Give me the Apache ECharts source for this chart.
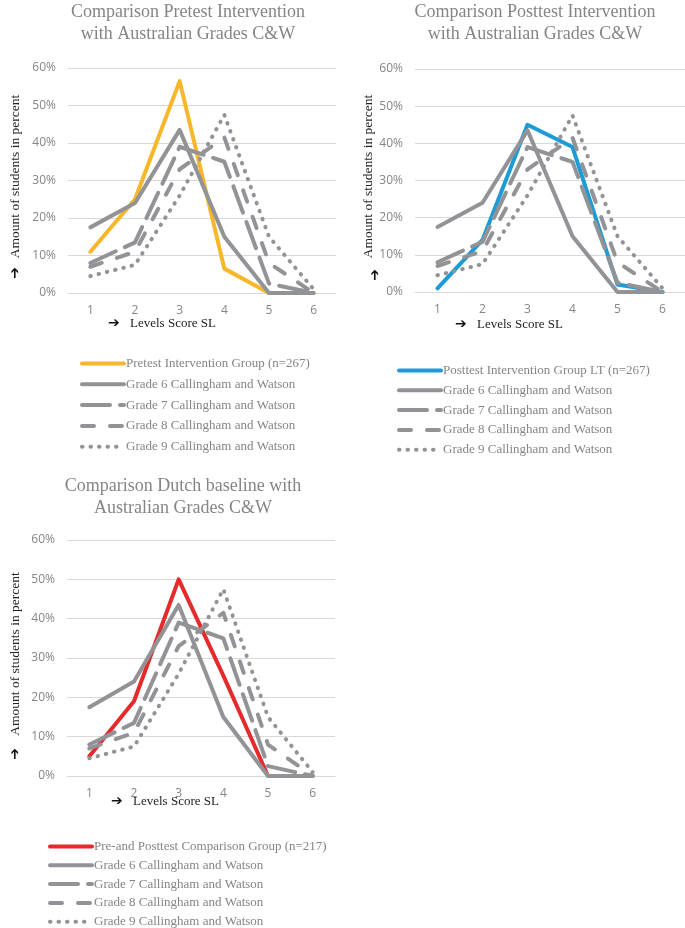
<!DOCTYPE html>
<html>
<head>
<meta charset="utf-8">
<script src="https://cdn.jsdelivr.net/npm/echarts@6/dist/echarts.min.js"></script>
<style>
html,body{margin:0;padding:0;background:#fff;}
#chart{width:685px;height:928px;}
</style>
</head>
<body>
<div id="chart"></div>
<script>
// ---- data ----
const levels = ['1', '2', '3', '4', '5', '6'];
const yTicks = [0, 10, 20, 30, 40, 50, 60];

const pretestName = 'Pretest Intervention Group (n=267)';
const pretest = [11, 25, 56.5, 6.5, 0, 0];

const posttestName = 'Posttest Intervention Group LT (n=267)';
const posttest = [1, 14, 45, 39, 2, 0];

const comparisonName = 'Pre-and Posttest Comparison Group (n=217)';
const comparison = [5, 19, 50, 25.5, 0, 0];

const grade6Name = 'Grade 6 Callingham and Watson';
const grade6 = [17.5, 24, 43.5, 15, 0, 0];
const grade7Name = 'Grade 7 Callingham and Watson';
const grade7 = [8, 13.5, 39, 35, 2.5, 0];
const grade8Name = 'Grade 8 Callingham and Watson';
const grade8 = [7, 11, 33, 41.5, 8, 0];
const grade9Name = 'Grade 9 Callingham and Watson';
const grade9 = [4.5, 7.5, 26, 47.5, 15, 1];

const titles = [
  'Comparison Pretest Intervention\nwith Australian Grades C&W',
  'Comparison Posttest Intervention\nwith Australian Grades C&W',
  'Comparison Dutch baseline with\nAustralian Grades C&W'
];
const yName = 'Amount of students in percent';
const xName = 'Levels Score SL';

// ---- styles ----
const GRAY = '#929396';
const TXT = '#858585';
const SERIF = '"Liberation Serif", "Times New Roman", serif';
const SANS = '"Open Sans", "Liberation Sans", sans-serif';

const grids = [
  {left: 68, top: 68, width: 268, height: 225},
  {left: 415, top: 69, width: 270, height: 223},
  {left: 67, top: 540, width: 268, height: 236}
];
const yNameGap = [46, 33, 45];

const mainSets = [
  {name: pretestName, data: pretest, color: '#F8B62A'},
  {name: posttestName, data: posttest, color: '#1D9BD7'},
  {name: comparisonName, data: comparison, color: '#E52A2C'}
];
const grades = [
  {name: grade6Name, data: grade6, type: 'solid'},
  {name: grade7Name, data: grade7, type: [28, 10]},
  {name: grade8Name, data: grade8, type: [12, 16]},
  {name: grade9Name, data: grade9, type: [0.5, 8]}
];

const xAxis = [], yAxis = [], series = [], legend = [], title = [], graphic = [];

grids.forEach((g, i) => {
  xAxis.push({
    type: 'category', gridIndex: i, data: levels, boundaryGap: true,
    axisLine: {show: true, lineStyle: {color: '#d9d9d9', width: 1}},
    axisTick: {show: false},
    axisLabel: {color: TXT, fontFamily: SANS, fontSize: 12, margin: 12}
  });
  yAxis.push({
    type: 'value', gridIndex: i, min: yTicks[0], max: yTicks[yTicks.length - 1], interval: 10,
    axisLine: {show: false}, axisTick: {show: false},
    axisLabel: {color: TXT, fontFamily: SANS, fontSize: 12, margin: 12, formatter: '{value}%'},
    splitLine: {lineStyle: {color: '#d9d9d9', width: 1}},
    name: yName, nameLocation: 'middle', nameRotate: 90, nameGap: yNameGap[i],
    nameTextStyle: {color: '#222', fontFamily: SERIF, fontSize: 13.5, padding: [0, 0, 0, 8]}
  });
  const m = mainSets[i];
  series.push({
    type: 'line', name: m.name, xAxisIndex: i, yAxisIndex: i, data: m.data,
    symbol: 'none', lineStyle: {color: m.color, width: 4, cap: 'round', join: 'round'},
    itemStyle: {color: m.color}, z: 2
  });
  grades.forEach(gr => {
    series.push({
      type: 'line', name: gr.name, xAxisIndex: i, yAxisIndex: i, data: gr.data,
      symbol: 'none',
      lineStyle: {color: GRAY, width: 4, type: gr.type, cap: 'round', join: 'round'},
      itemStyle: {color: GRAY}, z: 3
    });
  });
});

const titleStyle = {color: TXT, fontFamily: SERIF, fontSize: 18, fontWeight: 'normal', lineHeight: 22};
title.push(
  {text: titles[0], left: 188, top: 1, padding: 0, textAlign: 'center', textStyle: titleStyle},
  {text: titles[1], left: 535, top: 1, padding: 0, textAlign: 'center', textStyle: titleStyle},
  {text: titles[2], left: 183, top: 475, padding: 0, textAlign: 'center', textStyle: titleStyle}
);

const legendPos = [
  {left: 80, top: 357, gap: 7.8},
  {left: 397, top: 364, gap: 6.8},
  {left: 48, top: 840, gap: 5.8}
];
legendPos.forEach((p, i) => {
  legend.push({
    orient: 'vertical', left: p.left, top: p.top, itemGap: p.gap, padding: 0,
    height: 100,
    itemWidth: 42, itemHeight: 12, selectedMode: false,
    itemStyle: {opacity: 0},
    lineStyle: {width: 4},
    data: [mainSets[i].name].concat(grades.map(g => g.name)),
    textStyle: {color: TXT, fontFamily: SERIF, fontSize: 13, lineHeight: 12, padding: [0, 0, 0, -3]}
  });
});

// axis name for x + arrows
const xNamePos = [{x: 108, y: 324}, {x: 455, y: 325}, {x: 111, y: 802}];
const upArrowPos = [{x: 15, y: 273}, {x: 375, y: 275}, {x: 15, y: 754}];
xNamePos.forEach(p => {
  graphic.push({type: 'text', left: p.x, top: p.y - 8,
    style: {text: '➔', fill: '#111', font: 'bold 14px "DejaVu Sans"'}});
  graphic.push({type: 'text', left: p.x + 22, top: p.y - 7,
    style: {text: xName, fill: '#222', font: '13px ' + SERIF}});
});
upArrowPos.forEach(p => {
  graphic.push({type: 'text', x: p.x, y: p.y, rotation: Math.PI / 2,
    style: {text: '➔', fill: '#111', font: 'bold 14px "DejaVu Sans"', align: 'center', verticalAlign: 'middle'}});
});

const chart = echarts.init(document.getElementById('chart'), null, {renderer: 'canvas'});
chart.setOption({
  animation: false,
  backgroundColor: '#fff',
  title, legend, grid: grids, xAxis, yAxis, series, graphic
});
</script>
</body>
</html>
